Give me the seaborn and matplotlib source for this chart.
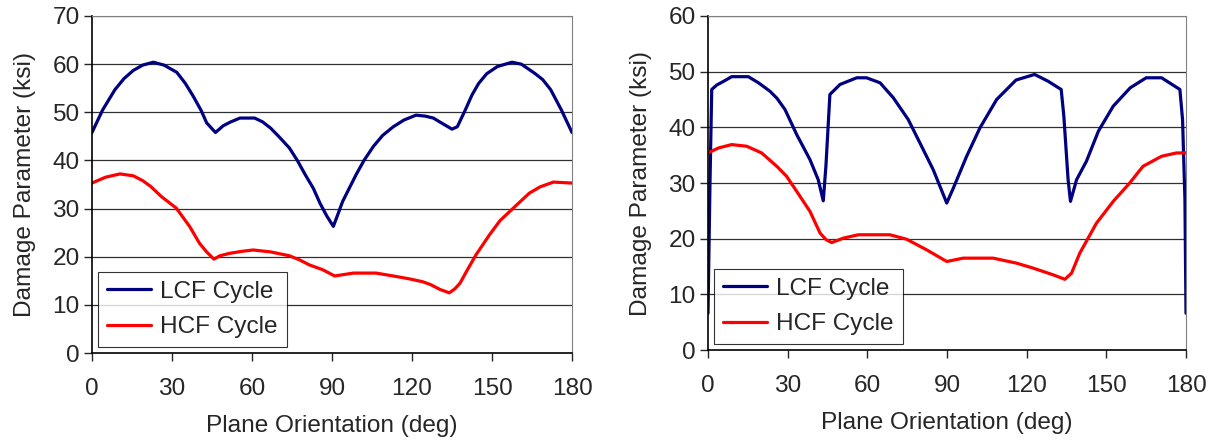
import pandas as pd
import matplotlib
matplotlib.use("Agg")
import matplotlib.pyplot as plt
import seaborn as sns

# --- left panel data ---
left_lcf_deg = [0, 4, 8.6, 12, 15.5, 19, 23, 27, 31.8, 35, 38, 41, 43, 46.3, 49.2, 52, 55.5, 61, 64, 67, 70, 74, 77, 80,
                83, 85.5, 88, 90.5, 92, 94, 99, 102, 105.5, 109, 113, 117, 121.5, 125, 128, 131, 135, 137, 140, 142.5,
                145, 148, 152, 157.5, 161, 166, 169, 172, 176, 180]
left_lcf_val = [45.8, 50.5, 54.7, 57.0, 58.7, 59.8, 60.4, 59.8, 58.3, 56.0, 53.3, 50.3, 47.8, 45.8, 47.2, 48.0, 48.8, 48.8,
                48.0, 46.7, 45.0, 42.6, 40.0, 37.0, 34.2, 31.1, 28.5, 26.3, 28.5, 31.5, 37.0, 40.0, 42.9, 45.2, 47.0, 48.4,
                49.4, 49.2, 48.8, 47.8, 46.5, 47.0, 50.5, 53.6, 56.0, 58.0, 59.5, 60.4, 60.0, 58.1, 56.8, 54.7, 50.5, 45.8]
left_hcf_deg = [0, 5, 10.5, 15.5, 19, 22, 26, 31.6, 36.6, 40.3, 43, 45.7, 48, 51.6, 56, 60.4, 67, 74, 78, 81.5, 86.5, 91,
                98, 106.5, 114, 119, 124, 127, 130.5, 134, 136, 138, 141, 144, 149, 153, 158, 164, 168, 173, 180]
left_hcf_val = [35.3, 36.5, 37.2, 36.8, 35.8, 34.6, 32.5, 30.1, 26.3, 22.8, 21.0, 19.5, 20.2, 20.7, 21.1, 21.4, 21.0, 20.2,
                19.3, 18.3, 17.3, 16.0, 16.6, 16.6, 15.9, 15.4, 14.8, 14.2, 13.2, 12.5, 13.3, 14.5, 17.5, 20.4, 24.5,
                27.5, 30.1, 33.2, 34.5, 35.5, 35.3]

# --- right panel data ---
right_lcf_deg = [0, 0.75, 1.4, 3.3, 6, 8.9, 15.2, 19, 23.3, 26, 29, 33.4, 38.4, 41.5, 43.4, 44.4, 45.9, 49.7, 56, 59.7,
                 64.8, 69.8, 75.4, 79.8, 84.8, 89.9, 92.4, 97.4, 102.4, 108.7, 116, 123, 128, 133, 134, 135.6, 136.5,
                 138.8, 142.5, 147, 152.6, 159, 165, 170.8, 177.7, 178.7, 179.6, 180]
right_lcf_val = [6.6, 30.0, 46.8, 47.6, 48.3, 49.1, 49.1, 48.0, 46.5, 45.2, 43.2, 38.7, 34.2, 30.6, 26.8, 33.0, 45.9,
                 47.7, 48.9, 48.9, 48.0, 45.3, 41.4, 37.2, 32.4, 26.4, 29.1, 34.8, 39.9, 45.0, 48.5, 49.5, 48.3, 46.8,
                 42.0, 30.6, 26.7, 30.6, 33.9, 39.3, 43.8, 47.1, 48.9, 48.9, 46.8, 41.4, 27.0, 6.6]
right_hcf_deg = [0, 4, 8.9, 14.6, 20.2, 25.9, 29.6, 33.4, 38.4, 42.2, 44.5, 46.6, 51, 56.6, 68.5, 74.8, 82.3, 89.9,
                 96.1, 107.4, 116.2, 122.5, 130, 134.4, 136.9, 140, 146.3, 152.6, 158.8, 163.8, 170.8, 176.4, 180]
right_hcf_val = [35.4, 36.3, 36.9, 36.6, 35.4, 33.0, 31.2, 28.5, 24.9, 21.0, 19.8, 19.3, 20.1, 20.7, 20.7, 19.9, 18.0,
                 15.9, 16.5, 16.5, 15.6, 14.7, 13.5, 12.7, 13.8, 17.4, 22.8, 26.7, 30.0, 33.0, 34.8, 35.4, 35.4]

x_ticks = [0, 30, 60, 90, 120, 150, 180]
colors = {"LCF Cycle": "#000080", "HCF Cycle": "#ff0000"}


def make_df(lcf_x, lcf_y, hcf_x, hcf_y):
    a = pd.DataFrame({"deg": lcf_x, "val": lcf_y, "cycle": "LCF Cycle"})
    b = pd.DataFrame({"deg": hcf_x, "val": hcf_y, "cycle": "HCF Cycle"})
    return pd.concat([a, b], ignore_index=True)


sns.set_style("white")
plt.rcParams["font.family"] = ["Liberation Sans", "DejaVu Sans"]
fs = 17.6

fig = plt.figure(figsize=(12.17, 4.40), dpi=100)
ax1 = fig.add_axes([92 / 1217, 87 / 440, 480 / 1217, 337 / 440])
ax2 = fig.add_axes([708 / 1217, 90 / 440, 478 / 1217, 334 / 440])

panels = [
    (ax1, make_df(left_lcf_deg, left_lcf_val, left_hcf_deg, left_hcf_val), 70),
    (ax2, make_df(right_lcf_deg, right_lcf_val, right_hcf_deg, right_hcf_val), 60),
]

for ax, df, ymax in panels:
    sns.lineplot(data=df, x="deg", y="val", hue="cycle", palette=colors, sort=False,
                 estimator=None, linewidth=2.3, ax=ax)
    ax.set_xlim(0, 180)
    ax.set_ylim(0, ymax)
    ax.set_xticks(x_ticks)
    ax.set_yticks(range(0, ymax + 1, 10))
    for yv in range(10, ymax + 1, 10):
        ax.axhline(yv, color="#303030", lw=0.9, zorder=0)
    for side in ["left", "bottom"]:
        ax.spines[side].set_color("black")
        ax.spines[side].set_linewidth(1.2)
    for side in ["right", "top"]:
        ax.spines[side].set_color("#808080")
        ax.spines[side].set_linewidth(0.8)
    ax.tick_params(axis="x", direction="out", length=6, width=1, pad=12, labelsize=fs, bottom=True)
    ax.tick_params(axis="y", direction="out", length=6, width=1, pad=3, labelsize=fs, left=True)
    ax.set_xlabel("Plane Orientation (deg)", fontsize=fs, labelpad=11)
    ax.set_ylabel("Damage Parameter (ksi)", fontsize=fs, labelpad=12)
    leg = ax.legend(loc="lower left", fontsize=fs, frameon=True, fancybox=False,
                    edgecolor="black", handlelength=1.8, handletextpad=0.4,
                    borderpad=0.35, labelspacing=0.55, borderaxespad=0.25)
    leg.get_frame().set_linewidth(0.8)
    leg.set_title(None)

fig.savefig("out.png", dpi=100)
